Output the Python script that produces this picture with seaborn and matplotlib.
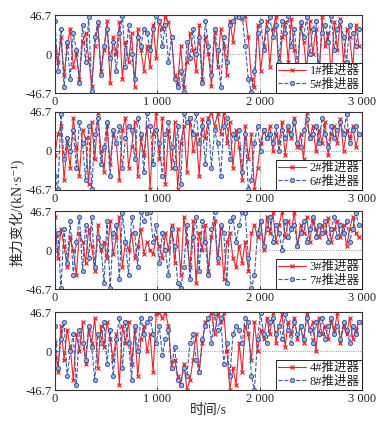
import numpy as np
import pandas as pd
import seaborn as sns
import matplotlib.pyplot as plt

# 时间轴 (每 30 s 一个采样点)
time_s = list(range(0, 3000, 30))

# 1# / 5# 推进器
thr1 = [5, -10, 20, -25, 10, 30, -15, 0, -30, 15,
        25, -5, -38, 10, 35, -20, 5, 40, -35, 20,
        0, 38, -30, 15, -10, 25, -40, 30, 5, -20,
        10, -15, 35, -5, 40, 30, 44, 38, 20, -25,
        -35, 10, -40, -10, 25, 5, -20, 35, -30, 20,
        0, -38, 25, -15, 30, 10, -25, 40, 15, 44,
        46, 42, 46, 20, -30, -40, 35, -20, 10, 40,
        -15, 30, 45, -25, 20, 38, -10, 42, 5, -30,
        35, 15, -20, 40, 0, 30, -35, 44, 10, 25,
        -25, 38, 5, 42, -10, 30, 20, -15, 35, 10]
thr5 = [40, -20, 30, -40, 15, -30, 25, 5, -35, 35,
        -10, 44, -44, 20, 38, -25, 10, 30, -5, 15,
        -20, 25, 46, -15, 35, 0, -30, 20, 10, 30,
        25, 5, 30, 46, 40, 10, 35, -10, 20, -30,
        -40, -20, -46, 15, -5, 30, 0, 20, -35, 40,
        10, -25, 30, 5, -40, 20, -10, 35, 40, 46,
        44, 46, 10, -30, -46, -20, 25, 40, 5, 30,
        44, 20, 35, -10, 40, 25, 46, 10, 30, -15,
        38, 20, 44, 0, 30, 40, -20, 25, 35, 15,
        46, 5, 30, 40, 20, -10, 35, 25, 10, 30]

# 2# / 6# 推进器
thr2 = [-5, 20, 30, -35, 10, -20, 40, 5, -30, 25,
        15, -40, 35, -10, 45, 0, -25, 30, -15, 20,
        10, -35, 25, 40, -20, 5, 35, -30, 15, -5,
        30, -46, 20, 45, -10, 40, -40, 25, -20, 35,
        -45, 10, 30, -25, 40, 0, 20, -30, 38, 15,
        40, 46, 30, 44, 20, 46, 10, 35, -20, 25,
        5, -35, 30, -10, 20, -46, -20, 10, 25, 15,
        30, 0, 20, 10, 35, -5, 25, 15, 40, 5,
        20, -10, 46, 15, 30, 0, 25, 10, 35, -5,
        20, 30, 10, 38, 0, 25, 15, 30, 5, 20]
thr6 = [-30, -45, 44, -10, 15, 0, 25, -20, 35, 10,
        -35, 30, -46, 20, 40, -15, 5, 35, -30, 25,
        10, 30, -20, 15, 30, 25, -10, 40, 20, -25,
        46, 30, -15, 25, 10, -30, 20, 35, 5, -20,
        30, -40, 45, 35, 40, 20, 46, 10, 30, -15,
        35, -20, 25, 10, -30, 30, 40, -10, 20, 15,
        25, -25, 20, -46, -35, 10, 30, 0, 25, 15,
        20, 10, 30, 0, 25, 15, 30, 20, 35, 10,
        5, 25, 38, 15, 20, 30, 10, 40, 20, 5,
        30, 15, 25, 35, 20, 44, 10, 25, 30, 20]

# 3# / 7# 推进器
thr3 = [40, -10, 25, 5, -20, 15, 0, -30, 20, 10,
        -15, 25, 5, -25, 30, 0, 10, -10, 35, -5,
        15, 40, -20, 10, 0, 20, -10, 5, 25, -5,
        10, 0, -5, 15, 5, -10, 20, 0, 30, -15,
        25, -30, 40, 10, -20, 35, -40, 20, 0, 30,
        -25, 15, 35, -15, 25, -35, 10, 20, -10, -20,
        5, -15, 10, -25, 20, 30, 15, 35, 0, 40,
        20, 44, 10, 30, 46, 15, 35, 25, 44, 5,
        30, 20, 40, 10, 35, 25, 15, 30, 20, 38,
        10, 25, 35, 15, 30, 5, 25, 40, 20, 15]
thr7 = [0, 20, -46, 25, -15, 35, -30, 10, 40, -25,
        30, -10, 40, -20, 15, 5, -40, 35, -46, 20,
        30, -35, 44, 10, -30, 40, 20, -20, 46, 35,
        44, 46, 10, 30, -15, 20, 0, -30, 25, 5,
        -40, -46, -20, 30, -35, 15, 40, -25, 35, 10,
        -30, 25, 45, -10, 30, 20, -40, 35, 40, 10,
        30, 46, 44, -10, -46, -30, 20, 35, 5, 25,
        40, 10, 30, 20, 0, 35, 15, 25, 30, 5,
        20, 35, 10, 25, 40, 15, 30, 20, 35, 10,
        25, 40, 15, 30, 20, 35, 10, 25, 44, 30]

# 4# / 8# 推进器
thr4 = [10, -25, 30, -10, 25, 5, -35, 20, 0, 35,
        -15, 25, 10, 40, -20, 30, 5, 35, 15, -10,
        20, -40, 30, 10, 35, -15, 25, -30, 15, 30,
        0, 20, -25, 44, 46, 40, 46, 30, -20, -10,
        -30, -40, -15, -46, -35, -10, 20, -25, 10, 35,
        40, 46, 20, 44, 35, 46, 0, -46, -20, -40,
        10, -25, 30, 20, -10, 35, 0, 25, 15, 40,
        20, 46, 10, 30, 44, 5, 35, 20, 40, 15,
        30, 10, 45, 25, 35, 0, 40, 20, 30, 15,
        35, 25, 46, 10, 30, 20, 40, 15, 25, 35]
thr8 = [30, -20, 15, 35, -30, 0, 20, -40, 25, 10,
        -10, 30, 5, -35, 20, 10, 35, -15, 25, -30,
        15, 40, -20, 35, 10, -35, 30, 0, 40, 20,
        35, 40, 20, 10, 30, -5, 15, 25, -20, 5,
        -35, -40, -20, -30, 10, 20, -10, -25, 15, 30,
        40, 10, 46, 25, 40, -15, 10, -30, 20, 30,
        25, 10, 40, 35, -30, -46, 15, 46, 20, 10,
        35, 40, 20, 30, 15, 44, 25, 10, 35, 20,
        30, 15, 40, 25, 10, 35, 20, 40, 15, 30,
        40, 20, 30, 15, 35, 25, 10, 30, 20, 35]

pairs = [(thr1, thr5, "1#推进器", "5#推进器"),
         (thr2, thr6, "2#推进器", "6#推进器"),
         (thr3, thr7, "3#推进器", "7#推进器"),
         (thr4, thr8, "4#推进器", "8#推进器")]

y_ticks = [-46.7, 0, 46.7]
y_labels = ["-46.7", "0", "46.7"]
x_ticks = [0, 1000, 2000, 3000]
x_labels = ["0", "1 000", "2 000", "3 000"]

sns.set_style("ticks")
plt.rcParams["font.family"] = ["Liberation Serif", "Noto Sans CJK SC", "DejaVu Sans"]
plt.rcParams["xtick.direction"] = "in"
plt.rcParams["ytick.direction"] = "in"

red = "#e8262c"
blue = "#3c5aa6"

fig = plt.figure(figsize=(3.81, 4.25), dpi=100)
bottoms = [0.781, 0.553, 0.320, 0.082]

for (a, b, la, lb), y0 in zip(pairs, bottoms):
    ax = fig.add_axes([0.144, y0, 0.806, 0.1835])
    sns.lineplot(x=time_s, y=a, ax=ax, color=red, lw=0.8, marker="x",
                 markersize=3.5, mew=0.9, mec=red, label=la)
    sns.lineplot(x=time_s, y=b, ax=ax, color=blue, lw=0.8, linestyle="--",
                 marker="o", markersize=3, mfc="#9fb0d8", mec=blue, mew=0.7,
                 label=lb)
    ax.set_xlim(0, 3000)
    ax.set_ylim(-46.7, 46.7)
    ax.set_xticks(x_ticks)
    ax.set_xticklabels(x_labels, fontsize=9)
    ax.set_yticks(y_ticks)
    ax.set_yticklabels(y_labels, fontsize=9)
    ax.tick_params(length=2.5, width=0.6, pad=2)
    ax.grid(True, linestyle=":", color="#777777", lw=0.6)
    ax.set_xlabel("")
    ax.set_ylabel("")
    for s in ax.spines.values():
        s.set_linewidth(0.8)
        s.set_color("#333333")
    leg = ax.legend(loc="lower right", fontsize=9, handlelength=2.2,
                    borderaxespad=0, borderpad=0.2, labelspacing=0.1,
                    handletextpad=0.3, fancybox=False, framealpha=1)
    leg.get_frame().set_edgecolor("black")
    leg.get_frame().set_linewidth(0.6)

fig.text(0.045, 0.5, "推力变化/(kN·s⁻¹)", rotation=90,
         ha="center", va="center", fontsize=10)
fig.text(0.547, 0.035, "时间/s", ha="center", va="center", fontsize=10)

fig.savefig("out.png", dpi=100)
